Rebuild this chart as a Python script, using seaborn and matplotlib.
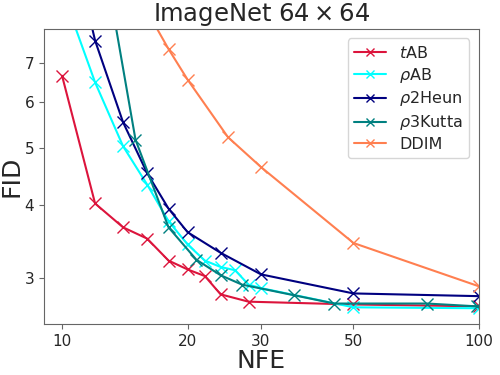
import numpy as np
import pandas as pd
import matplotlib
matplotlib.use("Agg")
import matplotlib.pyplot as plt
from matplotlib.ticker import FixedLocator, NullLocator, FixedFormatter
import seaborn as sns

# values
tab_nfe = [10, 12, 14, 16, 18, 20, 22, 24, 28, 50, 100]
tab_fid = [6.65, 4.02, 3.66, 3.50, 3.21, 3.10, 3.02, 2.81, 2.73, 2.70, 2.68]

rab_nfe = [10, 12, 14, 16, 18, 20, 22, 24, 26, 28, 30, 50, 100]
rab_fid = [9.3, 6.48, 5.04, 4.33, 3.75, 3.42, 3.21, 3.13, 3.09, 2.92, 2.88, 2.67, 2.66]

heun_nfe = [10, 12, 14, 16, 18, 20, 24, 30, 50, 100]
heun_fid = [13.3, 7.64, 5.54, 4.53, 3.94, 3.59, 3.31, 3.04, 2.82, 2.79]

kutta_nfe = [12, 15, 18, 21, 24, 27, 36, 45, 75, 99]
kutta_fid = [12.9, 5.17, 3.66, 3.22, 3.03, 2.92, 2.80, 2.71, 2.71, 2.68]

ddim_nfe = [10, 18, 20, 25, 30, 50, 100]
ddim_fid = [15.5, 7.39, 6.55, 5.22, 4.64, 3.44, 2.90]

labels = [r"$t$AB", r"$\rho$AB", r"$\rho$2Heun", r"$\rho$3Kutta", "DDIM"]
colors = ["crimson", "cyan", "navy", "teal", "coral"]

x_ticks = [10, 20, 30, 50, 100]
y_ticks = [3, 4, 5, 6, 7]

frames = []
for lab, n, f in zip(labels, [tab_nfe, rab_nfe, heun_nfe, kutta_nfe, ddim_nfe],
                     [tab_fid, rab_fid, heun_fid, kutta_fid, ddim_fid]):
    frames.append(pd.DataFrame({"NFE": n, "FID": f, "method": lab}))
df = pd.concat(frames, ignore_index=True)

sns.set_style("ticks")
plt.rcParams['font.family'] = ['DejaVu Sans']

fig, ax = plt.subplots(figsize=(5, 3.75), dpi=100)
fig.subplots_adjust(left=0.088, right=0.958, top=0.923, bottom=0.136)

sns.lineplot(data=df, x="NFE", y="FID", hue="method", hue_order=labels,
             palette=dict(zip(labels, colors)), marker="x", markersize=8,
             linewidth=1.5, ax=ax, sort=False, legend=False)

# seaborn paints marker edges white, which hides 'x' markers
for line in ax.lines:
    line.set_markeredgecolor(line.get_color())
    line.set_markeredgewidth(1.0)

ax.set_xscale("log")
ax.set_yscale("log")
ax.set_xlim(9.05, 100)
ax.set_ylim(2.5, 8.0)

ax.xaxis.set_major_locator(FixedLocator(x_ticks))
ax.xaxis.set_major_formatter(FixedFormatter([str(t) for t in x_ticks]))
ax.xaxis.set_minor_locator(NullLocator())
ax.yaxis.set_major_locator(FixedLocator(y_ticks))
ax.yaxis.set_major_formatter(FixedFormatter([str(t) for t in y_ticks]))
ax.yaxis.set_minor_locator(NullLocator())
ax.tick_params(labelsize=11, color="0.4")
for s in ax.spines.values():
    s.set_color("0.4")

ax.set_xlabel("NFE", fontsize=18, labelpad=0)
ax.set_ylabel("FID", fontsize=18, labelpad=1)
ax.set_title(r"ImageNet $64\times64$", fontsize=17.5)

ax.legend(ax.lines[:len(labels)], labels, loc="upper right", fontsize=11.5,
          labelspacing=0.3, handlelength=2.0, markerscale=0.7,
          borderaxespad=0.6)

fig.savefig("out.png", dpi=100)
